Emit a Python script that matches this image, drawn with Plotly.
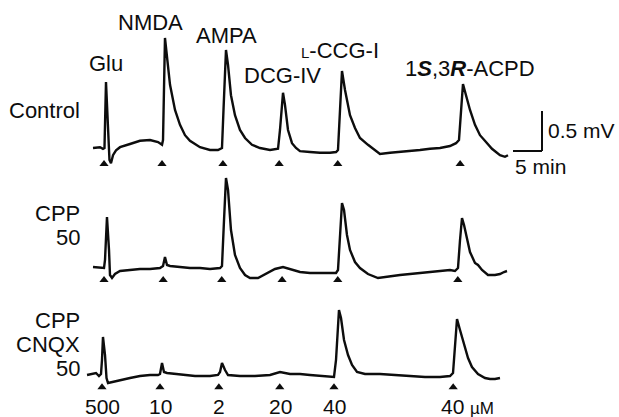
import plotly.graph_objects as go

# ---- data: time (min) and membrane depolarisation (mV, relative to baseline) ----
ctrl_t = [0.0, 1.21, 1.72, 1.98, 2.24, 2.59, 2.84, 3.10, 3.45, 3.97, 4.66, 6.38, 8.10, 9.83, 11.21, 11.90,
          12.07, 12.41, 12.76, 13.28, 14.14, 15.0, 15.86, 16.72, 18.45, 20.17, 21.55, 22.24, 22.5, 22.93,
          23.28, 23.79, 24.48, 25.34, 26.21, 27.41, 28.79, 30.52, 31.9, 32.24, 32.76, 33.1, 33.62, 34.31,
          35.0, 35.69, 37.41, 39.14, 40.86, 41.9, 42.24, 42.59, 42.93, 43.45, 44.31, 45.17, 46.03, 47.41,
          48.62, 49.48, 51.21, 52.93, 54.66, 56.38, 58.10, 59.83, 61.55, 62.59, 63.1, 63.45, 63.79, 64.31,
          65.0, 65.86, 66.72, 67.76, 68.79, 70.17, 71.03, 71.55]
ctrl_v = [0.0, 0.01, -0.01, 0.0, 0.825, 0.35, -0.15, -0.19, -0.09, -0.03, 0.01, 0.05, 0.09, 0.10, 0.075, 0.04,
          0.10, 1.375, 1.16, 0.79, 0.475, 0.29, 0.16, 0.09, 0.01, -0.025, -0.025, 0.0, 0.475, 1.225,
          1.04, 0.66, 0.41, 0.225, 0.125, 0.04, 0.0, -0.025, -0.01, 0.225, 0.69, 0.54, 0.225, 0.06,
          0.0, -0.04, -0.05, -0.06, -0.06, -0.05, -0.025, 0.475, 0.9625, 0.725, 0.41, 0.25, 0.125, 0.04,
          -0.025, -0.075, -0.06, -0.05, -0.04, -0.025, -0.01, 0.0, 0.025, 0.06, 0.1, 0.475, 0.8, 0.66,
          0.475, 0.29, 0.16, 0.075, -0.01, -0.09, -0.11, -0.09]

cpp_t = [0.0, 1.21, 1.9, 2.07, 2.41, 2.76, 2.93, 3.28, 3.79, 4.66, 6.38, 8.10, 9.83, 11.55, 12.07, 12.41,
         12.76, 13.28, 15.0, 16.72, 18.45, 20.17, 21.9, 22.24, 22.59, 22.93, 23.28, 23.79, 24.48, 25.34,
         26.21, 27.07, 28.45, 29.66, 31.38, 32.76, 33.97, 35.69, 37.41, 39.14, 40.86, 41.9, 42.24, 42.59,
         42.93, 43.28, 43.79, 44.31, 45.17, 46.03, 47.41, 49.14, 51.21, 52.93, 54.66, 56.38, 58.10, 59.83,
         61.55, 62.41, 62.93, 63.28, 63.62, 63.97, 64.48, 65.0, 65.86, 66.38, 67.07, 68.1, 69.31, 70.17,
         70.86, 71.38]
cpp_v = [0.0375, 0.025, 0.025, 0.125, 0.6625, 0.25, -0.0625, -0.1, -0.05, -0.0125, 0.0, 0.0125, 0.0125, 0.025,
         0.05, 0.1625, 0.0625, 0.05, 0.0375, 0.025, 0.025, 0.0125, 0.025, 0.05, 0.625, 1.15, 1.0, 0.5,
         0.1875, 0.025, -0.0625, -0.1, -0.1, -0.05, 0.0125, 0.0375, 0.0125, -0.025, -0.0375, -0.0375,
         -0.0375, -0.0375, 0.0, 0.5, 0.8375, 0.75, 0.4375, 0.25, 0.1, 0.025, -0.05, -0.1, -0.075, -0.0625,
         -0.05, -0.0375, -0.025, -0.0125, 0.0, -0.0125, 0.025, 0.375, 0.65, 0.5625, 0.375, 0.225, 0.0875,
         0.0625, 0.0, -0.0625, -0.0625, -0.05, -0.025, -0.0125]

cnqx_t = [-1.03, -0.17, 0.52, 1.03, 1.38, 1.55, 1.72, 2.07, 2.33, 2.59, 3.28, 4.66, 6.38, 8.10, 9.83, 11.21,
          11.55, 11.9, 12.24, 12.76, 14.14, 15.86, 17.59, 20.17, 21.55, 21.9, 22.24, 22.76, 23.28, 25.34,
          27.93, 30.52, 32.24, 33.97, 35.69, 37.41, 39.14, 40.86, 41.55, 41.9, 42.41, 42.76, 43.28, 43.97,
          44.66, 45.52, 46.9, 49.48, 52.07, 54.66, 57.24, 59.83, 61.55, 62.07, 62.41, 62.76, 63.28, 63.97,
          64.66, 65.34, 66.38, 67.59, 68.45, 69.31, 70.17]
cnqx_v = [0.0125, 0.025, 0.0375, 0.0, 0.025, 0.2, 0.4875, 0.2625, -0.025, -0.0875, -0.075, -0.05, -0.025, 0.0,
          0.0125, 0.0125, 0.025, 0.1625, 0.05, 0.0375, 0.025, 0.0125, 0.0, 0.0, 0.0125, 0.05, 0.1625, 0.075,
          0.0125, 0.0, 0.0, 0.0125, 0.05, 0.025, 0.025, 0.0125, 0.0, -0.0125, -0.0125, 0.2, 0.825, 0.725,
          0.45, 0.2625, 0.1375, 0.05, 0.025, 0.025, 0.0125, 0.0, -0.0125, -0.0125, 0.0, 0.0375, 0.3875,
          0.7125, 0.575, 0.3875, 0.225, 0.1125, 0.025, -0.025, -0.0375, -0.0375, -0.025]

# agonist application times (min) for each row
ctrl_app = [1.9, 11.9, 22.4, 32.1, 42.2, 63.3]
cpp_app = [1.9, 12.1, 22.2, 32.6, 42.2, 62.9]
cnqx_app = [1.55, 11.55, 21.7, 32.2, 41.55, 62.1]

agonists = ["Glu", "NMDA", "AMPA", "DCG-IV",
            '<span style="font-size:15px">L</span>-CCG-I', "1<b><i>S</i></b>,3<b><i>R</i></b>-ACPD"]
concs = ["500", "10", "2", "20", "40", "40"]
row_labels = [["Control"], ["CPP", "50"], ["CPP", "CNQX", "50"]]

scale_mv = 0.5
scale_min = 5

# ---- layout constants ----
W, H = 619, 417
px_per_min = 5.8
px_per_mv = 80.0
x0_px = 93
offsets = [(H - 148) / px_per_mv, (H - 270) / px_per_mv, (H - 376) / px_per_mv]
tri_drop = [0.2, 0.125, 0.14]
FONT = "Liberation Sans, Arial, sans-serif"
INK = "#0d0d0d"

fig = go.Figure()
traces = [(ctrl_t, ctrl_v, ctrl_app), (cpp_t, cpp_v, cpp_app), (cnqx_t, cnqx_v, cnqx_app)]
for i, (t, v, app) in enumerate(traces):
    fig.add_trace(go.Scatter(x=t, y=[vv + offsets[i] for vv in v], mode="lines",
                             line=dict(color=INK, width=2.4), hoverinfo="skip"))
    fig.add_trace(go.Scatter(x=app, y=[offsets[i] - tri_drop[i]] * len(app), mode="markers",
                             marker=dict(symbol="triangle-up", size=8, color=INK), hoverinfo="skip"))

# scale bar
sb_x = (542 - x0_px) / px_per_min
sb_y = (H - 151) / px_per_mv
fig.add_shape(type="line", x0=sb_x, x1=sb_x, y0=sb_y, y1=sb_y + scale_mv, line=dict(color=INK, width=2))
fig.add_shape(type="line", x0=sb_x - scale_min, x1=sb_x, y0=sb_y, y1=sb_y, line=dict(color=INK, width=2))


def ann(text, px, py, size=22, xanchor="center", align="center"):
    fig.add_annotation(x=px / W, y=1 - py / H, xref="paper", yref="paper", text=text, showarrow=False,
                       xanchor=xanchor, yanchor="middle", align=align,
                       font=dict(family=FONT, size=size, color=INK))


label_pos = [(106, 64), (150, 22), (226, 35), (282, 76), (340, 50), (470, 68)]
for txt, (px, py) in zip(agonists, label_pos):
    ann(txt, px, py)

row_y = [[110], [213, 237], [320, 344, 368]]
for lines, ys in zip(row_labels, row_y):
    for txt, py in zip(lines, ys):
        ann(txt, 82, py, xanchor="right", align="right")

conc_pos = [102, 160, 219, 280, 334, 453]
for c, px in zip(concs, conc_pos):
    ann(c, px, 406, size=21)
ann("µM", 468, 408, size=17, xanchor="left")

ann(f"{scale_mv} mV", 546, 130, size=21, xanchor="left")
ann(f"{scale_min} min", 513, 166, size=21, xanchor="left")

fig.update_layout(width=W, height=H, margin=dict(l=0, r=0, t=0, b=0), showlegend=False,
                  paper_bgcolor="white", plot_bgcolor="white")
fig.update_xaxes(range=[-x0_px / px_per_min, (W - x0_px) / px_per_min], visible=False, fixedrange=True)
fig.update_yaxes(range=[0, H / px_per_mv], visible=False, fixedrange=True)

fig.write_html("out.html", config={"displayModeBar": False},
               post_script="document.body.style.margin='0';document.body.style.overflow='hidden';")
